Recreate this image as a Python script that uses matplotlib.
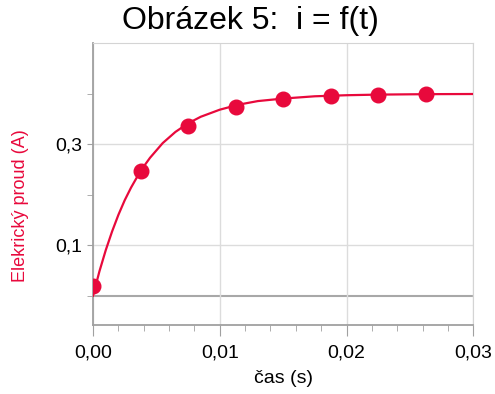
import matplotlib
matplotlib.use("Agg")
import matplotlib.pyplot as plt
from matplotlib.ticker import FixedLocator, MultipleLocator, FuncFormatter

plt.rcParams["font.family"] = ["Liberation Sans", "DejaVu Sans"]

RED = "#e8093c"

# measured points: time (s), current (A)
t_meas = [0.0, 0.00375, 0.0075, 0.01125, 0.015, 0.01875, 0.0225, 0.02625]
i_meas = [0.020, 0.246, 0.336, 0.374, 0.389, 0.395, 0.397, 0.399]

# fitted curve
t_fit = [0.0, 0.0005, 0.001, 0.0015, 0.002, 0.0025, 0.003, 0.00375, 0.0045,
         0.0055, 0.0065, 0.0075, 0.0085, 0.01, 0.0115, 0.013, 0.015, 0.0175,
         0.02, 0.0225, 0.025, 0.0275, 0.03]
i_fit = [0.0, 0.048, 0.090, 0.127, 0.160, 0.189, 0.214, 0.247, 0.273,
         0.302, 0.324, 0.341, 0.354, 0.368, 0.378, 0.385, 0.390, 0.3945,
         0.3966, 0.3978, 0.3984, 0.3988, 0.399]

x_major = [0.0, 0.01, 0.02, 0.03]
y_major = [0.1, 0.3]
y_minor = [0.0, 0.2, 0.4]


def comma(v, pos, nd):
    return f"{v:.{nd}f}".replace(".", ",")


fig = plt.figure(figsize=(4.95, 3.94), dpi=100)
ax = fig.add_axes([0.188, 0.175, 0.768, 0.716])

ax.set_xlim(0, 0.03)
ax.set_ylim(-0.058, 0.5)

ax.xaxis.set_major_locator(FixedLocator(x_major))
ax.xaxis.set_minor_locator(MultipleLocator(0.002))
ax.yaxis.set_major_locator(FixedLocator(y_major))
ax.yaxis.set_minor_locator(FixedLocator(y_minor))
ax.xaxis.set_major_formatter(FuncFormatter(lambda v, p: comma(v, p, 2)))
ax.yaxis.set_major_formatter(FuncFormatter(lambda v, p: comma(v, p, 1)))

ax.grid(True, which="major", color="#dcdcdc", lw=1.0)
ax.axhline(0, color="#a8a8a8", lw=1.5, zorder=1)

for s in ("top", "right"):
    ax.spines[s].set_color("#d4d4d4")
for s in ("left", "bottom"):
    ax.spines[s].set_color("#a0a0a0")
    ax.spines[s].set_linewidth(1.3)

ax.tick_params(axis="x", which="major", length=8, color="#a0a0a0", labelsize=14, pad=6)
ax.tick_params(axis="x", which="minor", length=4.5, color="#a0a0a0")
ax.tick_params(axis="y", which="both", length=4, color="#a0a0a0", labelsize=14, pad=4)

ax.plot(t_fit, i_fit, color=RED, lw=1.6, zorder=3)
ax.plot(t_meas, i_meas, "o", color=RED, ms=10.5, zorder=4, clip_on=True)

ax.set_xlabel("čas (s)", fontsize=14, labelpad=6)
ax.set_ylabel("Elekrický proud (A)", fontsize=13, color=RED)
ax.yaxis.set_label_coords(-0.168, 0.422)

fig.suptitle("Obrázek 5:  i = f(t)", fontsize=23, x=0.505, y=0.985)

fig.savefig("out.png", dpi=100)
